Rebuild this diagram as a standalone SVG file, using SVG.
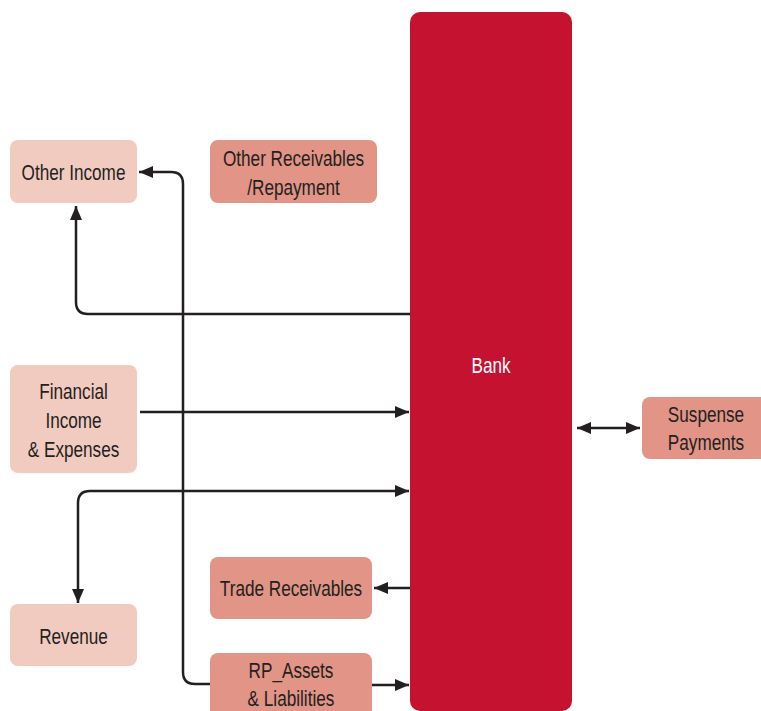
<svg xmlns="http://www.w3.org/2000/svg" width="761" height="711" viewBox="0 0 761 711">
<style>
.light{fill:#F2CBC0}
.mid{fill:#E29486}
.t{font-family:"Liberation Sans",Arial,sans-serif;font-size:22px;fill:#231F20;text-anchor:middle}
.c{fill:none;stroke:#231F20;stroke-width:2.5}
</style>
<defs>
<marker id="ah" markerUnits="userSpaceOnUse" markerWidth="15" markerHeight="13" refX="14" refY="6.5" orient="auto-start-reverse" viewBox="0 0 15 13">
<path d="M0,0.5 L14,6.5 L0,12.5 z" fill="#231F20"/>
</marker>
</defs>
<rect width="761" height="711" fill="#ffffff"/>
<g id="bank">
<rect x="410" y="12" width="162" height="699" rx="10" fill="#C41230"/>
<text class="t" transform="translate(491,373) scale(0.78,1)" style="fill:#fff">Bank</text>
</g>
<g id="other-income">
<rect class="light" x="10" y="140" width="127" height="63" rx="8"/>
<text class="t" transform="translate(73.5,180) scale(0.78,1)">Other Income</text>
</g>
<g id="other-receivables">
<rect class="mid" x="210" y="140" width="167" height="63" rx="8"/>
<text class="t" transform="translate(293.5,166) scale(0.78,1)">Other Receivables</text>
<text class="t" transform="translate(293.5,195) scale(0.78,1)">/Repayment</text>
</g>
<g id="financial">
<rect class="light" x="10" y="365" width="127" height="108" rx="8"/>
<text class="t" transform="translate(73.5,399) scale(0.78,1)">Financial</text>
<text class="t" transform="translate(73.5,428) scale(0.78,1)">Income</text>
<text class="t" transform="translate(73.5,457) scale(0.78,1)">&amp; Expenses</text>
</g>
<g id="revenue">
<rect class="light" x="10" y="604" width="127" height="62" rx="8"/>
<text class="t" transform="translate(73.5,644) scale(0.78,1)">Revenue</text>
</g>
<g id="trade-receivables">
<rect class="mid" x="210" y="557" width="162" height="62" rx="8"/>
<text class="t" transform="translate(291,596) scale(0.78,1)">Trade Receivables</text>
</g>
<g id="rp-assets">
<rect class="mid" x="210" y="653" width="162" height="70" rx="8"/>
<text class="t" transform="translate(291,678) scale(0.78,1)">RP_Assets</text>
<text class="t" transform="translate(291,706) scale(0.78,1)">&amp; Liabilities</text>
</g>
<g id="suspense">
<rect class="mid" x="642" y="397" width="130" height="62" rx="8"/>
<text class="t" transform="translate(706,422) scale(0.78,1)">Suspense</text>
<text class="t" transform="translate(706,450) scale(0.78,1)">Payments</text>
</g>
<g id="connectors">
<path class="c" d="M410,314 H88 Q76,314 76,302 V206" marker-end="url(#ah)"/>
<path class="c" d="M210,684 H195 Q183,684 183,672 V184 Q183,172 171,172 H139" marker-end="url(#ah)"/>
<path class="c" d="M140,412 H409" marker-end="url(#ah)"/>
<path class="c" d="M409,491 H90 Q78,491 78,503 V603" marker-start="url(#ah)" marker-end="url(#ah)"/>
<path class="c" d="M410,588 H374" marker-end="url(#ah)"/>
<path class="c" d="M372,685 H409" marker-end="url(#ah)"/>
<path class="c" d="M577,428 H640" marker-start="url(#ah)" marker-end="url(#ah)"/>
</g>
</svg>
